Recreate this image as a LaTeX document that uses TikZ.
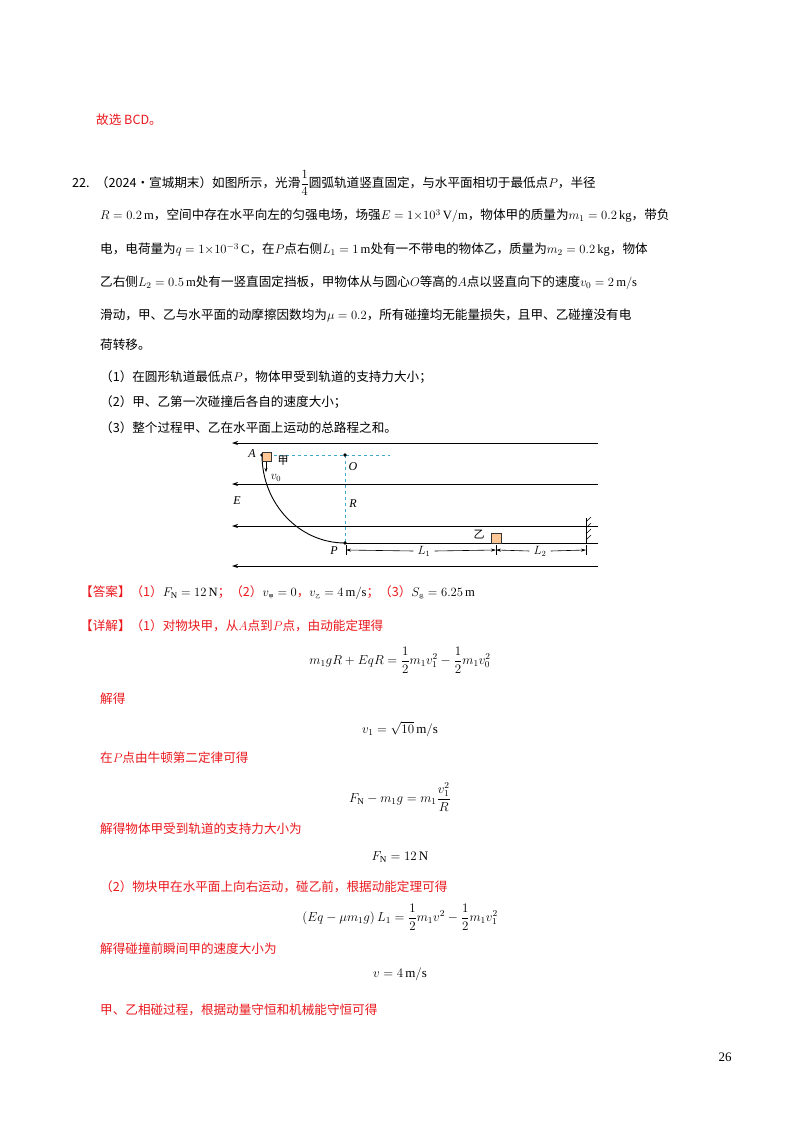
\RequirePackage{fix-cm}
\documentclass[tikz,border=0pt]{standalone}
\usepackage{amsmath}
\usepackage{fontspec}
\setmainfont{Liberation Serif}
\newfontfamily\cjk{Noto Sans CJK SC}
\usetikzlibrary{arrows.meta,patterns}
\definecolor{ansred}{RGB}{235,25,30}
\definecolor{blk}{RGB}{255,200,150}
\definecolor{dcyan}{RGB}{60,170,200}
\begin{document}
\begin{tikzpicture}[x=1pt,y=-1pt,
  txt/.style={anchor=west,inner sep=0pt,font=\fontsize{12.6}{16}\selectfont\cjk},
  rtxt/.style={txt,text=ansred},
  eq/.style={anchor=center,inner sep=0pt,font=\fontsize{13}{16}\selectfont},
  fld/.style={-{Stealth[length=6pt,width=4pt]},line width=0.8pt},
  lbl/.style={inner sep=0pt,font=\fontsize{12}{14}\selectfont\itshape}]
\useasboundingbox (0,0) rectangle (800,1132);
\fill[white] (0,0) rectangle (800,1132);
\node[rtxt] (t0) at (96,120) {故选 BCD。};
\node[txt] (t1) at (72,183) {22.\enspace（2024·宣城期末）如图所示，光滑$\dfrac{1}{4}$圆弧轨道竖直固定，与水平面相切于最低点$P$，半径};
\node[txt] (t2) at (100,216) {$R=0.2\,\mathrm{m}$，空间中存在水平向左的匀强电场，场强$E=1{\times}10^{3}\,\mathrm{V/m}$，物体甲的质量为$m_1=0.2\,\mathrm{kg}$，带负};
\node[txt] (t3) at (100,250) {电，电荷量为$q=1{\times}10^{-3}\,\mathrm{C}$，在$P$点右侧$L_1=1\,\mathrm{m}$处有一不带电的物体乙，质量为$m_2=0.2\,\mathrm{kg}$，物体};
\node[txt] (t4) at (100,283) {乙右侧$L_2=0.5\,\mathrm{m}$处有一竖直固定挡板，甲物体从与圆心$O$等高的$A$点以竖直向下的速度$v_0=2\,\mathrm{m/s}$};
\node[txt] (t5) at (100,315) {滑动，甲、乙与水平面的动摩擦因数均为$\mu=0.2$，所有碰撞均无能量损失，且甲、乙碰撞没有电};
\node[txt] (t6) at (100,345) {荷转移。};
\node[txt] (q1) at (100,377) {（1）在圆形轨道最低点$P$，物体甲受到轨道的支持力大小；};
\node[txt] (q2) at (100,402) {（2）甲、乙第一次碰撞后各自的速度大小；};
\node[txt] (q3) at (100,428) {（3）整个过程甲、乙在水平面上运动的总路程之和。};
% diagram
\foreach \yy/\nm in {443/f1,484/f2,526/f3,566/f4}{
  \coordinate (\nm r) at (598,\yy); \coordinate (\nm l) at (232,\yy);
  \draw[fld] (\nm r) -- (\nm l);}
\coordinate (A) at (262,455); \coordinate (O) at (345,455); \coordinate (P) at (345,543);
\coordinate (Oe) at (390,455); \coordinate (W) at (586,543); \coordinate (Wt) at (586,518);
\draw[dcyan,dashed,line width=0.9pt] (A) -- (Oe);
\draw[dcyan,dashed,line width=0.9pt] (O) -- (P);
\draw[line width=0.9pt] (A) arc[start angle=180,end angle=90,x radius=83,y radius=88];
\draw[line width=0.9pt] (P) -- (598,543);
\fill (A) circle (1.8); \fill (O) circle (1.8); \fill (P) circle (1.8);
\node[draw=black!80,fill=blk,line width=0.5pt,minimum size=9pt,inner sep=0pt] (jia) at (267,457) {};
\node[draw=black!80,fill=blk,line width=0.5pt,minimum size=10pt,inner sep=0pt] (yi) at (496,538) {};
\draw[line width=0.8pt] (Wt) -- (W);
\foreach \k in {0,1,2,3}{\draw[line width=0.6pt] (586,522+6*\k) -- (591,517+6*\k);}
\draw[-{Stealth[length=4pt,width=3pt]},line width=0.6pt] (266,462) -- (266,472);
\node[lbl] (lA) at (252,454) {A};
\node[lbl] (lO) at (353,467) {O};
\node[lbl] (lR) at (353,504) {R};
\node[lbl] (lE) at (237,501) {E};
\node[lbl] (lP) at (334,551) {P};
\node[inner sep=0pt,font=\fontsize{11}{13}\selectfont\cjk] (ljia) at (283,461) {甲};
\node[lbl] (lv) at (276,478) {$v_0$};
\node[inner sep=0pt,font=\fontsize{11}{13}\selectfont\cjk] (lyi) at (479,535) {乙};
\coordinate (d0) at (346,550); \coordinate (d1) at (496,550); \coordinate (d2) at (586,550);
\foreach \c in {d0,d1,d2}{\draw[line width=0.6pt] ([yshift=-5]\c) -- ([yshift=5]\c);}
\node[lbl] (L1) at (424,551) {$L_1$};
\node[lbl] (L2) at (540,551) {$L_2$};
\draw[-{Stealth[length=5pt,width=3pt]},line width=0.6pt] (L1.west) ++(-4,0) -- (d0);
\draw[-{Stealth[length=5pt,width=3pt]},line width=0.6pt] (L1.east) ++(4,0) -- (d1);
\draw[-{Stealth[length=5pt,width=3pt]},line width=0.6pt] (L2.west) ++(-4,0) -- (d1);
\draw[-{Stealth[length=5pt,width=3pt]},line width=0.6pt] (L2.east) ++(4,0) -- (d2);
% answer
\node[txt] (ans) at (80,593) {\textcolor{ansred}{【答案】（1）}$F_{\mathrm N}=12\,\mathrm{N}$\textcolor{ansred}{；（2）}$v_{\mbox{\cjk\tiny 甲}}=0$\textcolor{ansred}{，}$v_{\mbox{\cjk\tiny 乙}}=4\,\mathrm{m/s}$\textcolor{ansred}{；（3）}$S_{\mbox{\cjk\tiny 总}}=6.25\,\mathrm{m}$};
\node[rtxt] (d) at (80,626) {【详解】（1）对物块甲，从$A$点到$P$点，由动能定理得};
\node[eq] (e1) at (400,660) {$m_1gR+EqR=\dfrac12m_1v_1^2-\dfrac12m_1v_0^2$};
\node[rtxt] (s1) at (100,699) {解得};
\node[eq] (e2) at (400,729) {$v_1=\sqrt{10}\,\mathrm{m/s}$};
\node[rtxt] (s2) at (100,758) {在$P$点由牛顿第二定律可得};
\node[eq] (e3) at (400,797) {$F_{\mathrm N}-m_1g=m_1\dfrac{v_1^2}{R}$};
\node[rtxt] (s3) at (100,829) {解得物体甲受到轨道的支持力大小为};
\node[eq] (e4) at (400,857) {$F_{\mathrm N}=12\,\mathrm{N}$};
\node[rtxt] (s4) at (100,887) {（2）物块甲在水平面上向右运动，碰乙前，根据动能定理可得};
\node[eq] (e5) at (400,917) {$\left(Eq-\mu m_1g\right)L_1=\dfrac12m_1v^2-\dfrac12m_1v_1^2$};
\node[rtxt] (s5) at (100,949) {解得碰撞前瞬间甲的速度大小为};
\node[eq] (e6) at (400,974) {$v=4\,\mathrm{m/s}$};
\node[rtxt] (s6) at (100,1010) {甲、乙相碰过程，根据动量守恒和机械能守恒可得};
\node[eq] (pg) at (725,1057) {26};
\end{tikzpicture}
\end{document}
